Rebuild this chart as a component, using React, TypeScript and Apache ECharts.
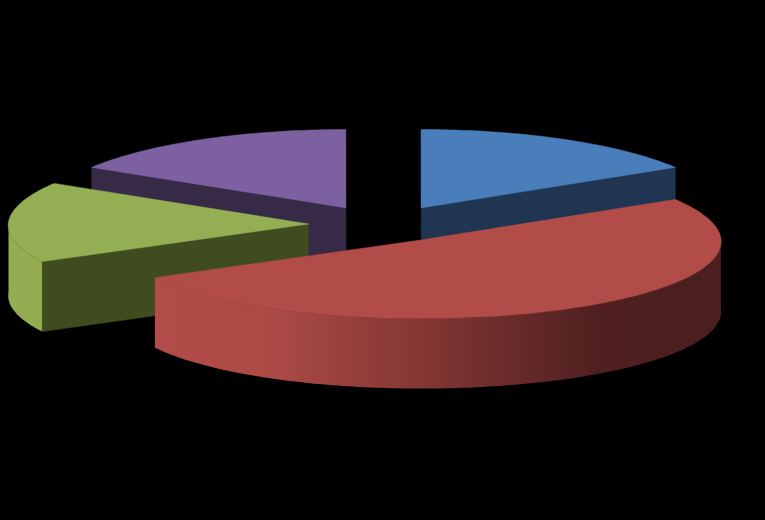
import React, { useEffect, useRef } from "react";
import * as echarts from "echarts";

const categories = ["Slice 1", "Slice 2", "Slice 3", "Slice 4"];
const values = [16.7, 50, 16.6, 16.7];
const topColors = ["#4A7EBB", "#B24C48", "#94AE54", "#7D60A0"];
const faceColors = ["#1F3551", "#4A1F1E", "#3F4C20", "#372A47"];
const drawOrder = [3, 0, 2, 1];

const TOTAL = values.reduce((a, b) => a + b, 0);
const CX = 383.5;
const CY = 224;
const RX = 300;
const RY = 78.5;
const DEPTH = 70;
const EXPLODE_X = 75;
const EXPLODE_Y = 18.5;
const SKEW = 0.045;
const LIFT = 2;
const RAD = Math.PI / 180;

function wallFill(i: number) {
  if (i === 1) {
    return new echarts.graphic.LinearGradient(0, 0, 1, 0, [
      { offset: 0, color: "#B24C48" },
      { offset: 0.2, color: "#AD4A46" },
      { offset: 0.5, color: "#7F3532" },
      { offset: 0.78, color: "#4F201F" },
      { offset: 1, color: "#4A1F1E" },
    ]);
  }
  return "#93AC52";
}

function renderItem(_params: any, api: any) {
  const i = api.value(0) as number;
  let before = 0;
  for (let k = 0; k < i; k++) before += values[k];
  const a0 = (before / TOTAL) * 360;
  const a1 = ((before + values[i]) / TOTAL) * 360;
  const mid = ((a0 + a1) / 2) * RAD;
  const cx = CX + EXPLODE_X * Math.sin(mid);
  const cy = CY - EXPLODE_Y * Math.cos(mid);
  const pt = (deg: number, dz = 0): number[] => {
    const t = deg * RAD;
    const s = Math.sin(t);
    return [
      cx + RX * s * (1 - SKEW * Math.cos(t)),
      cy - RY * Math.cos(t) - LIFT * s * s + dz,
    ];
  };
  const arc = (from: number, to: number, dz = 0) => {
    const out: number[][] = [];
    const n = Math.max(2, Math.ceil(Math.abs(to - from)));
    for (let k = 0; k <= n; k++) out.push(pt(from + ((to - from) * k) / n, dz));
    return out;
  };
  const poly = (points: number[][], fill: any, stroke?: string) => ({
    type: "polygon",
    shape: { points },
    style: { fill, stroke: stroke ?? "none", lineWidth: stroke ? 0.5 : 0 },
  });
  const children: any[] = [];
  const w0 = Math.max(a0, 90);
  const w1 = Math.min(a1, 270);
  if (w1 > w0) {
    children.push(
      poly([...arc(w0, w1), ...arc(w1, w0, DEPTH)], wallFill(i))
    );
  }
  const apex = [cx, cy];
  const face = (deg: number) =>
    poly(
      [apex, pt(deg), [pt(deg)[0], pt(deg)[1] + DEPTH], [cx, cy + DEPTH]],
      faceColors[i],
      faceColors[i]
    );
  if (Math.sin(a0 * RAD) < -1e-6) children.push(face(a0));
  if (Math.sin(a1 * RAD) > 1e-6) children.push(face(a1));
  children.push(poly([apex, ...arc(a0, a1)], topColors[i], topColors[i]));
  return { type: "group", children };
}

export default function App() {
  const ref = useRef<HTMLDivElement>(null);
  useEffect(() => {
    document.body.style.margin = "0";
    document.body.style.background = "#000";
    const chart = echarts.init(ref.current!, undefined, { renderer: "svg" });
    chart.setOption({
      animation: false,
      backgroundColor: "#000000",
      series: [
        {
          type: "custom",
          coordinateSystem: "none",
          silent: true,
          renderItem,
          data: drawOrder.map((i) => ({
            name: categories[i],
            value: [i, values[i]],
          })),
        },
      ],
    });
    return () => chart.dispose();
  }, []);
  return <div ref={ref} style={{ width: 765, height: 520 }} />;
}
